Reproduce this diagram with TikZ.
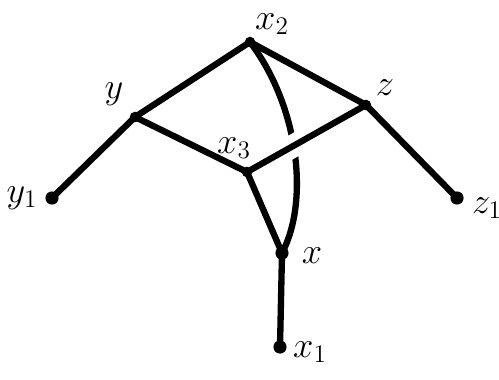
\documentclass[tikz,border=0pt]{standalone}
\begin{document}
\begin{tikzpicture}[x=0.02cm, y=-0.02cm, line width=3.6pt, line cap=round,
    every node/.style={font=\huge},
    junction/.style={circle, fill, inner sep=0pt, minimum size=6pt},
    leaf/.style={circle, fill, inner sep=0pt, minimum size=7.5pt}]
    \useasboundingbox (0,0) rectangle (499,379);
    % vertices
    \node[junction] (x2) at (250,42) {};
    \node[junction] (y) at (135,117) {};
    \node[junction] (z) at (366,105) {};
    \node[junction] (x3) at (247,172) {};
    \node[leaf] (y1) at (52,198) {};
    \node[leaf] (z1) at (457,198) {};
    \node[leaf] (x) at (282,253) {};
    \node[leaf] (x1) at (280,347) {};
    % labels
    \node (x2-lbl) at (272,24) {$x_2$};
    \node (y-lbl) at (114,94) {$y$};
    \node (z-lbl) at (385,88) {$z$};
    \node (x3-lbl) at (234,148) {$x_3$};
    \node (y1-lbl) at (22,198) {$y_1$};
    \node (z1-lbl) at (487,208) {$z_1$};
    \node (x-lbl) at (312,256) {$x$};
    \node (x1-lbl) at (310,352) {$x_1$};
    % edges
    \draw (x2.center) .. controls (298,105) and (310,200) .. (x.center);
    \draw[preaction={draw=white, line width=13pt, line cap=butt, shorten <=20pt, shorten >=20pt}] (x3.center) -- (z.center);
    \draw (x2.center) -- (y.center);
    \draw (x2.center) -- (z.center);
    \draw (y.center) -- (x3.center);
    \draw (y.center) -- (y1.center);
    \draw (z.center) -- (z1.center);
    \draw (x3.center) -- (x.center);
    \draw (x.center) -- (x1.center);
\end{tikzpicture}
\end{document}
